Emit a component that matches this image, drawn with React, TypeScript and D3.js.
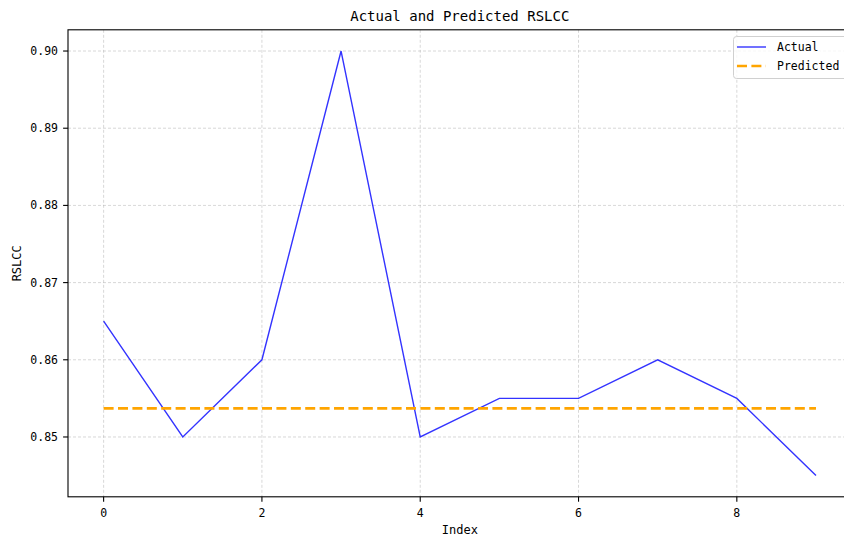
import React from "react";
import * as d3 from "d3";

const indices = [0, 1, 2, 3, 4, 5, 6, 7, 8, 9];
const actual = [0.865, 0.85, 0.86, 0.9, 0.85, 0.855, 0.855, 0.86, 0.855, 0.845];
const predicted = [0.8537, 0.8537, 0.8537, 0.8537, 0.8537, 0.8537, 0.8537, 0.8537, 0.8537, 0.8537];
const xTicks = [0, 2, 4, 6, 8];
const yTicks = [0.85, 0.86, 0.87, 0.88, 0.89, 0.9];

const W = 844;
const H = 540;
const left = 68;
const right = 851.6;
const top = 29.8;
const bottom = 496.8;
const FONT = "'DejaVu Sans Mono', 'Liberation Mono', monospace";

export default function App() {
  const x = d3.scaleLinear().domain([-0.45, 9.45]).range([left, right]);
  const y = d3.scaleLinear().domain([0.84225, 0.90275]).range([bottom, top]);

  const line = d3
    .line<number>()
    .x((_, i) => x(indices[i]))
    .y((d) => y(d));

  return (
    <svg
      width={W}
      height={H}
      style={{ position: "absolute", left: 0, top: 0, background: "#fff" }}
      fontFamily={FONT}
    >
      <rect x={0} y={0} width={W} height={H} fill="#fff" />
      {/* grid */}
      <g stroke="#b0b0b0" strokeOpacity={0.7} strokeWidth={0.7} strokeDasharray="3,2">
        {xTicks.map((t) => (
          <line key={"gx" + t} x1={x(t)} x2={x(t)} y1={top} y2={bottom} />
        ))}
        {yTicks.map((t) => (
          <line key={"gy" + t} x1={left} x2={right} y1={y(t)} y2={y(t)} />
        ))}
      </g>
      {/* lines */}
      <path d={line(actual) || ""} fill="none" stroke="#0000ff" strokeOpacity={0.8} strokeWidth={1.4} />
      <path
        d={line(predicted) || ""}
        fill="none"
        stroke="#ffa500"
        strokeWidth={2.6}
        strokeDasharray="10,4.4"
      />
      {/* frame */}
      <rect x={left} y={top} width={right - left} height={bottom - top} fill="none" stroke="#000" strokeWidth={1.1} />
      {/* x ticks */}
      {xTicks.map((t) => (
        <g key={"xt" + t}>
          <line x1={x(t)} x2={x(t)} y1={bottom} y2={bottom + 4.9} stroke="#000" strokeWidth={1.1} />
          <text x={x(t)} y={bottom + 20} textAnchor="middle" fontSize={11.5} fill="#000">
            {t}
          </text>
        </g>
      ))}
      {/* y ticks */}
      {yTicks.map((t) => (
        <g key={"yt" + t}>
          <line x1={left - 4.9} x2={left} y1={y(t)} y2={y(t)} stroke="#000" strokeWidth={1.1} />
          <text x={left - 10} y={y(t)} dy="0.35em" textAnchor="end" fontSize={11.5} fill="#000">
            {t.toFixed(2)}
          </text>
        </g>
      ))}
      {/* labels */}
      <text x={(left + right) / 2} y={534} textAnchor="middle" fontSize={12} fill="#000">
        Index
      </text>
      <text
        transform={`translate(21, ${(top + bottom) / 2}) rotate(-90)`}
        textAnchor="middle"
        fontSize={12}
        fill="#000"
      >
        RSLCC
      </text>
      <text x={(left + right) / 2} y={21} textAnchor="middle" fontSize={14} fill="#000">
        Actual and Predicted RSLCC
      </text>
      {/* legend */}
      <g>
        <rect x={733.5} y={36.5} width={130} height={42} rx={3} fill="#fff" fillOpacity={0.8} stroke="#d0d0d0" strokeWidth={1} />
        <line x1={737} x2={766} y1={47} y2={47} stroke="#0000ff" strokeOpacity={0.8} strokeWidth={1.4} />
        <text x={777} y={47} dy="0.35em" fontSize={11.5} fill="#000">
          Actual
        </text>
        <line x1={737} x2={766} y1={66} y2={66} stroke="#ffa500" strokeWidth={2.6} strokeDasharray="10,4.4" />
        <text x={777} y={66} dy="0.35em" fontSize={11.5} fill="#000">
          Predicted
        </text>
      </g>
    </svg>
  );
}
